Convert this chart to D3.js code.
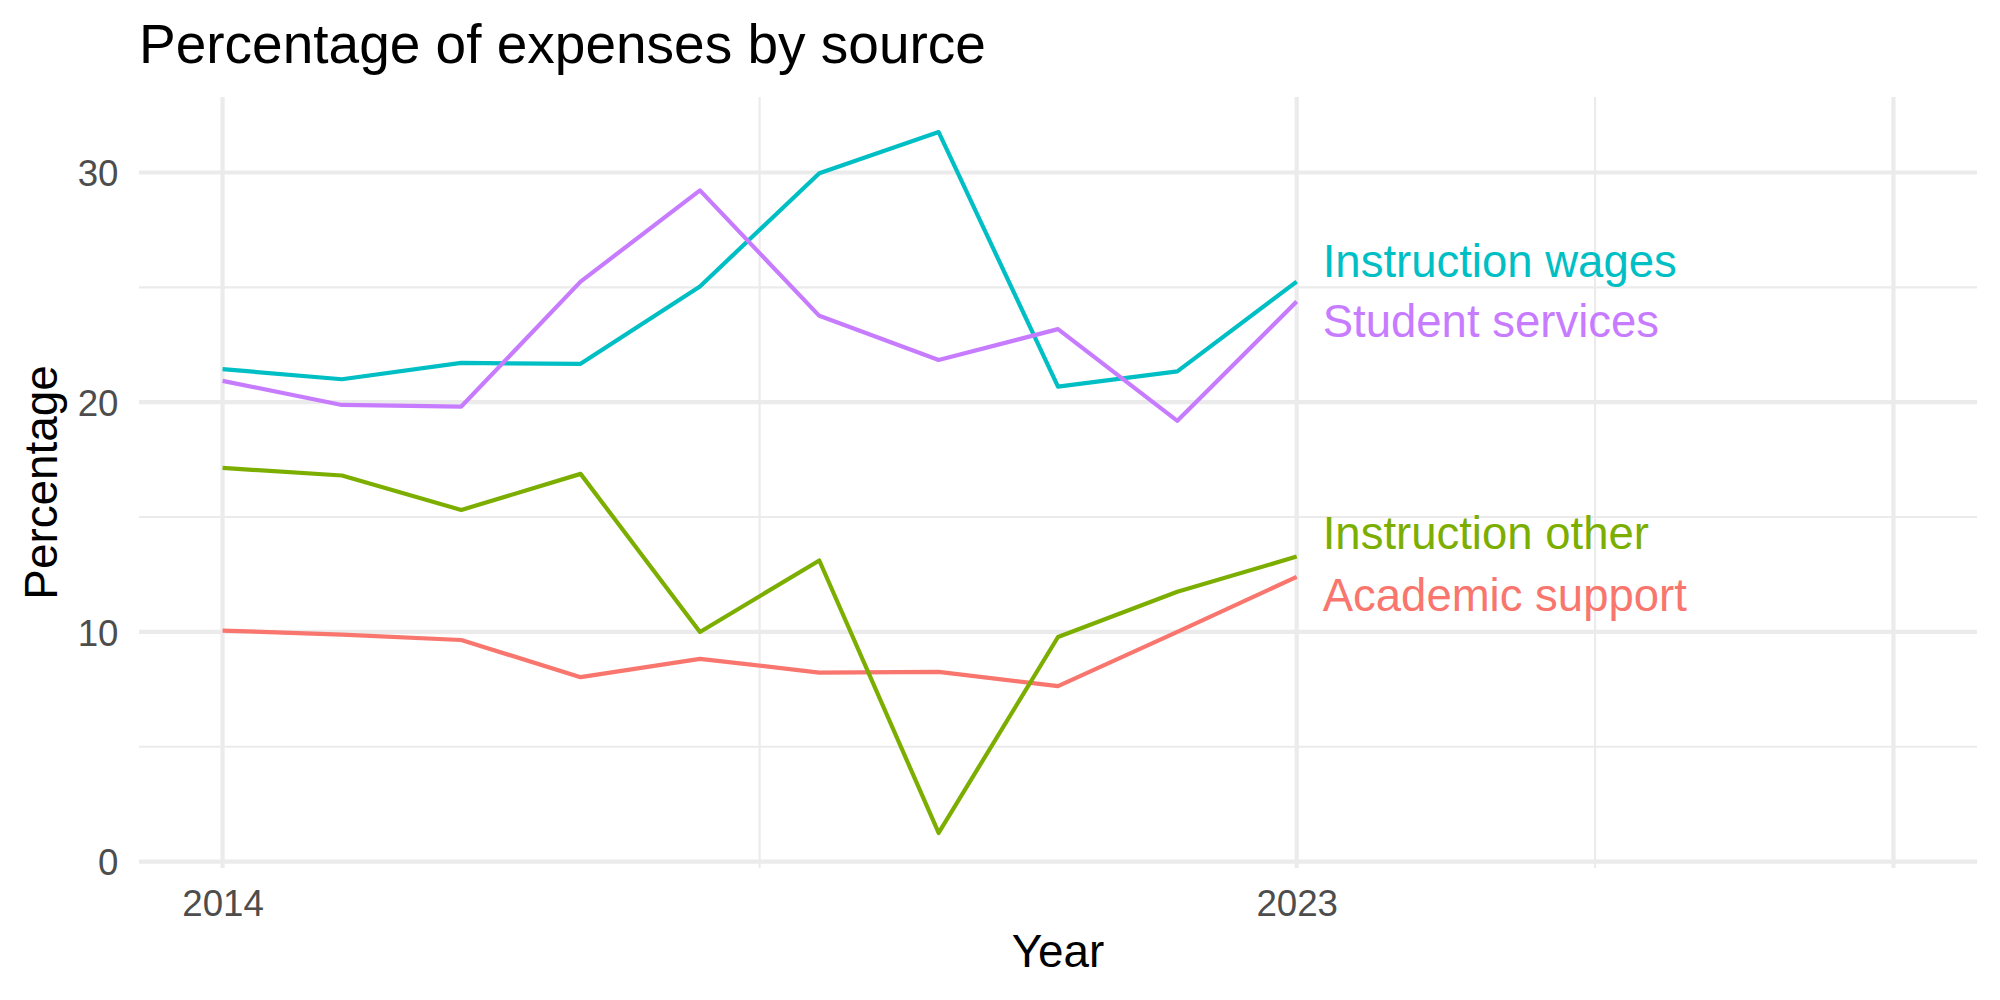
<!DOCTYPE html>
<html>
<head>
<meta charset="utf-8">
<script src="https://cdn.jsdelivr.net/npm/d3@7"></script>
<style>
  html, body { margin: 0; padding: 0; background: #ffffff; }
  svg { display: block; font-family: "Liberation Sans", Arial, Helvetica, sans-serif; }
</style>
</head>
<body>
<svg id="chart" width="2000" height="1000"></svg>
<script>
// ---- data ----
const years = [2014, 2015, 2016, 2017, 2018, 2019, 2020, 2021, 2022, 2023];
const seriesNames = ["Academic support", "Instruction other", "Instruction wages", "Student services"];
const academicSupport  = [10.06, 9.88, 9.65, 8.03, 8.83, 8.23, 8.26, 7.64, 10.0, 12.4];
const instructionOther = [17.14, 16.81, 15.31, 16.88, 10.0, 13.11, 1.25, 9.78, 11.75, 13.28];
const instructionWages = [21.44, 21.0, 21.71, 21.67, 25.04, 29.97, 31.76, 20.68, 21.34, 25.25];
const studentServices  = [20.93, 19.88, 19.81, 25.25, 29.22, 23.76, 21.84, 23.18, 19.19, 24.38];
const seriesColors = ["#F8766D", "#7CAE00", "#00BFC4", "#C77CFF"];
// label positions (data units) of the end-of-line labels
const labelValues = [11.64, 14.31, 26.18, 23.56];
const xLimits = [2014, 2028];
const xMajor = [2014, 2023, 2028];
const xMajorLabels = ["2014", "2023", ""];
const xMinor = [2018.5, 2025.5];
const yMajor = [0, 10, 20, 30];
const yMinor = [5, 15, 25];

const seriesValues = [academicSupport, instructionOther, instructionWages, studentServices];

// ---- layout ----
const panel = { left: 139, right: 1977, top: 97, bottom: 868 };
const svg = d3.select("#chart");

const xr = xLimits[1] - xLimits[0];
const x = d3.scaleLinear()
  .domain([xLimits[0] - 0.05 * xr, xLimits[1] + 0.05 * xr])
  .range([panel.left, panel.right]);

const allVals = seriesValues.flat();
const yMin = d3.min(allVals), yMax = d3.max(allVals);
const yr = yMax - yMin;
const y = d3.scaleLinear()
  .domain([yMin - 0.05 * yr, yMax + 0.05 * yr])
  .range([panel.bottom, panel.top]);

const gridColor = "#EBEBEB";
const grid = svg.append("g");

// minor grid
grid.selectAll(".ymin").data(yMinor).enter().append("line")
  .attr("x1", panel.left).attr("x2", panel.right)
  .attr("y1", d => y(d)).attr("y2", d => y(d))
  .attr("stroke", gridColor).attr("stroke-width", 2.1);
grid.selectAll(".xmin").data(xMinor).enter().append("line")
  .attr("y1", panel.top).attr("y2", panel.bottom)
  .attr("x1", d => x(d)).attr("x2", d => x(d))
  .attr("stroke", gridColor).attr("stroke-width", 2.1);
// major grid
grid.selectAll(".ymaj").data(yMajor).enter().append("line")
  .attr("x1", panel.left).attr("x2", panel.right)
  .attr("y1", d => y(d)).attr("y2", d => y(d))
  .attr("stroke", gridColor).attr("stroke-width", 4.2);
grid.selectAll(".xmaj").data(xMajor).enter().append("line")
  .attr("y1", panel.top).attr("y2", panel.bottom)
  .attr("x1", d => x(d)).attr("x2", d => x(d))
  .attr("stroke", gridColor).attr("stroke-width", 4.2);

// ---- axes (tick labels via d3 axes, no domain/tick lines) ----
const yAxis = d3.axisLeft(y).tickValues(yMajor).tickSize(0).tickPadding(20.5).tickFormat(d3.format("d"));
const gy = svg.append("g").attr("transform", `translate(${panel.left},0)`).call(yAxis);
gy.select(".domain").remove();
gy.selectAll("text").attr("font-size", "36.7px").attr("fill", "#4D4D4D")
  .attr("font-family", "Liberation Sans, Arial, sans-serif").attr("dy", "0.358em");

const xAxis = d3.axisBottom(x).tickValues(xMajor).tickSize(0).tickPadding(20.5)
  .tickFormat((d, i) => xMajorLabels[i]);
const gx = svg.append("g").attr("transform", `translate(0,${panel.bottom})`).call(xAxis);
gx.select(".domain").remove();
gx.selectAll("text").attr("font-size", "36.7px").attr("fill", "#4D4D4D")
  .attr("font-family", "Liberation Sans, Arial, sans-serif").attr("dy", "0.75em");

// ---- lines ----
const line = d3.line().x((d, i) => x(years[i])).y(d => y(d));
svg.append("g").selectAll("path").data(seriesValues).enter().append("path")
  .attr("d", d => line(d))
  .attr("fill", "none")
  .attr("stroke", (d, i) => seriesColors[i])
  .attr("stroke-width", 4.2)
  .attr("stroke-linejoin", "round")
  .attr("stroke-linecap", "butt");

// ---- end labels ----
const lastYear = years[years.length - 1];
svg.append("g").selectAll("text").data(seriesNames).enter().append("text")
  .attr("x", x(lastYear) + 26)
  .attr("y", (d, i) => y(labelValues[i]))
  .attr("dy", "0.358em")
  .attr("font-size", "45.5px")
  .attr("fill", (d, i) => seriesColors[i])
  .text(d => d);

// ---- titles ----
svg.append("text").attr("x", 139).attr("y", 63)
  .attr("font-size", "55px").attr("fill", "#000")
  .text("Percentage of expenses by source");

svg.append("text").attr("x", (panel.left + panel.right) / 2).attr("y", 967)
  .attr("text-anchor", "middle").attr("font-size", "45.8px").attr("fill", "#000")
  .text("Year");

svg.append("text")
  .attr("transform", `translate(57,${(panel.top + panel.bottom) / 2}) rotate(-90)`)
  .attr("text-anchor", "middle").attr("font-size", "45.8px").attr("fill", "#000")
  .text("Percentage");
</script>
</body>
</html>
